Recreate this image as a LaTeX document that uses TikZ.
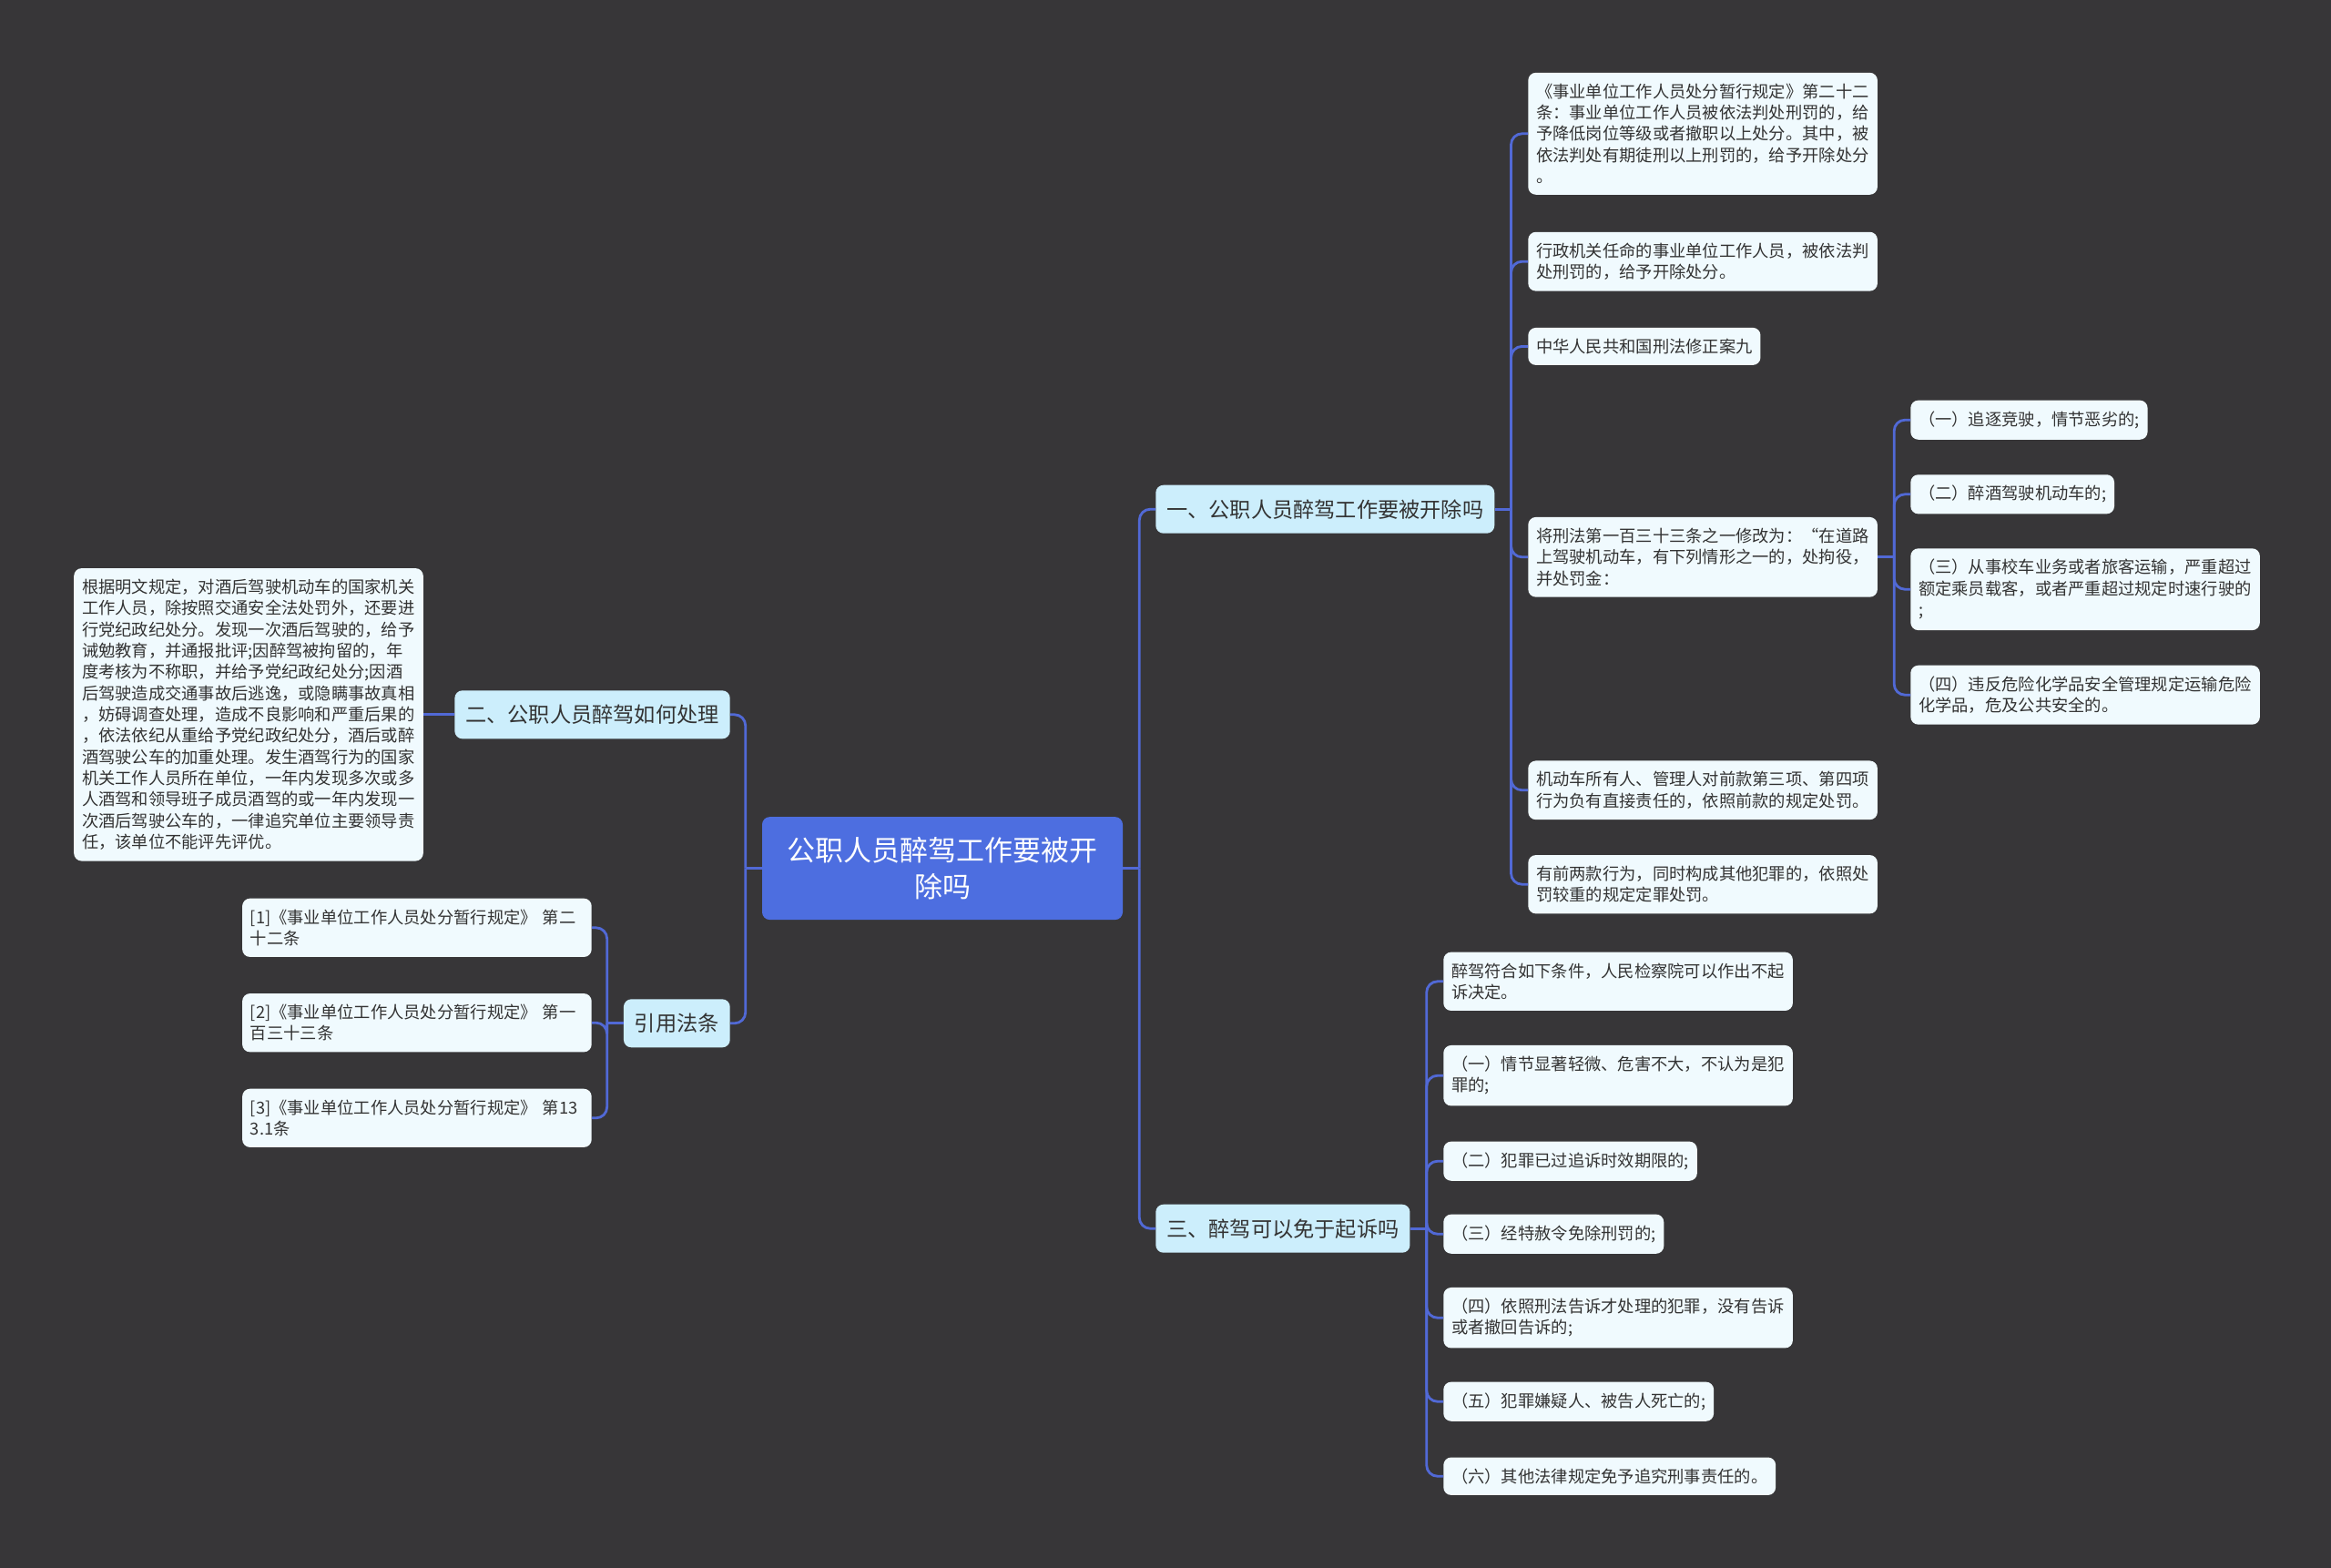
\documentclass[tikz,border=0pt]{standalone}
\usepackage{fontspec}
\setmainfont{Noto Sans CJK SC}
\usepackage{xcolor}
\usepackage{tikz}
\usetikzlibrary{positioning,calc}

\definecolor{bgdark}{HTML}{373638}
\definecolor{rootblue}{HTML}{4D6EE0}
\definecolor{branchcyan}{HTML}{CCEEFC}
\definecolor{leafwhite}{HTML}{F0FAFE}
\definecolor{linkblue}{HTML}{5169D6}
\definecolor{inkgray}{HTML}{333333}

\begin{document}
\begin{tikzpicture}[
  rootnode/.style={rectangle, rounded corners=6pt, fill=rootblue, text=white, font=\fontsize{22}{29}\selectfont, minimum width=9.9cm, minimum height=2.825cm, align=center},
  branch/.style={rectangle, rounded corners=6pt, fill=branchcyan, text=inkgray, font=\fontsize{16.5}{20}\selectfont, minimum height=1.325cm, inner xsep=0.3cm},
  leaf/.style={rectangle, rounded corners=6pt, fill=leafwhite, text=inkgray, font=\fontsize{13}{16.6}\selectfont, align=left, inner xsep=0.22cm, inner ysep=0.3cm},
  leafw/.style={leaf, text width=9.15cm},
  link/.style={draw=linkblue, line width=2pt, rounded corners=0.3cm}
]
\useasboundingbox (0,0) rectangle (64,-43.025);
\fill[bgdark] (-0.2,0.2) rectangle (64.2,-43.2);

\node[rootnode] (root) at (25.875,-23.84) {公职人员醉驾工作要被开\\除吗};

\node[branch, anchor=west] (b1) at (31.725,-13.98) {一、公职人员醉驾工作要被开除吗};
\node[branch, anchor=west] (b3) at (31.725,-33.73) {三、醉驾可以免于起诉吗};
\node[branch, anchor=east] (b2) at (20.05,-19.62) {二、公职人员醉驾如何处理};
\node[branch, anchor=east] (b4) at (20.05,-28.095) {引用法条};

% branch one
\node[leafw, anchor=west] (l1) at (41.95,-3.67) {《事业单位工作人员处分暂行规定》第二十二\\条：事业单位工作人员被依法判处刑罚的，给\\予降低岗位等级或者撤职以上处分。其中，被\\依法判处有期徒刑以上刑罚的，给予开除处分\\。};
\node[leafw, anchor=west] (l2) at (41.95,-7.18) {行政机关任命的事业单位工作人员，被依法判\\处刑罚的，给予开除处分。};
\node[leaf, anchor=west] (l3) at (41.95,-9.51) {中华人民共和国刑法修正案九};
\node[leafw, anchor=west] (l4) at (41.95,-15.295) {将刑法第一百三十三条之一修改为：“在道路\\上驾驶机动车，有下列情形之一的，处拘役，\\并处罚金：};
\node[leafw, anchor=west] (l5) at (41.95,-21.695) {机动车所有人、管理人对前款第三项、第四项\\行为负有直接责任的，依照前款的规定处罚。};
\node[leafw, anchor=west] (l6) at (41.95,-24.28) {有前两款行为，同时构成其他犯罪的，依照处\\罚较重的规定定罪处罚。};

\node[leaf, anchor=west] (s1) at (52.45,-11.53) {（一）追逐竞驶，情节恶劣的;};
\node[leaf, anchor=west] (s2) at (52.45,-13.57) {（二）醉酒驾驶机动车的;};
\node[leafw, anchor=west] (s3) at (52.45,-16.18) {（三）从事校车业务或者旅客运输，严重超过\\额定乘员载客，或者严重超过规定时速行驶的\\;};
\node[leafw, anchor=west] (s4) at (52.45,-19.08) {（四）违反危险化学品安全管理规定运输危险\\化学品，危及公共安全的。};

% branch two and references
\node[leafw, left=0.85cm of b2] (txt) {根据明文规定，对酒后驾驶机动车的国家机关\\工作人员，除按照交通安全法处罚外，还要进\\行党纪政纪处分。发现一次酒后驾驶的，给予\\诫勉教育，并通报批评;因醉驾被拘留的，年\\度考核为不称职，并给予党纪政纪处分;因酒\\后驾驶造成交通事故后逃逸，或隐瞒事故真相\\，妨碍调查处理，造成不良影响和严重后果的\\，依法依纪从重给予党纪政纪处分，酒后或醉\\酒驾驶公车的加重处理。发生酒驾行为的国家\\机关工作人员所在单位，一年内发现多次或多\\人酒驾和领导班子成员酒驾的或一年内发现一\\次酒后驾驶公车的，一律追究单位主要领导责\\任，该单位不能评先评优。};

\node[leafw, anchor=east] (r1) at (16.25,-25.47) {[1]《事业单位工作人员处分暂行规定》 第二\\十二条};
\node[leafw, anchor=east] (r2) at (16.25,-28.08) {[2]《事业单位工作人员处分暂行规定》 第一\\百三十三条};
\node[leafw, anchor=east] (r3) at (16.25,-30.695) {[3]《事业单位工作人员处分暂行规定》 第13\\3.1条};

% branch three
\node[leafw, anchor=west] (t1) at (39.625,-26.945) {醉驾符合如下条件，人民检察院可以作出不起\\诉决定。};
\node[leafw, anchor=west] (t2) at (39.625,-29.53) {（一）情节显著轻微、危害不大，不认为是犯\\罪的;};
\node[leaf, anchor=west] (t3) at (39.625,-31.88) {（二）犯罪已过追诉时效期限的;};
\node[leaf, anchor=west] (t4) at (39.625,-33.88) {（三）经特赦令免除刑罚的;};
\node[leafw, anchor=west] (t5) at (39.625,-36.18) {（四）依照刑法告诉才处理的犯罪，没有告诉\\或者撤回告诉的;};
\node[leaf, anchor=west] (t6) at (39.625,-38.48) {（五）犯罪嫌疑人、被告人死亡的;};
\node[leaf, anchor=west] (t7) at (39.625,-40.53) {（六）其他法律规定免予追究刑事责任的。};

\coordinate (jr) at ($(root.east)+(0.45,0)$);
\coordinate (jl) at ($(root.west)+(-0.45,0)$);
\coordinate (j1) at ($(b1.east)+(0.45,0)$);
\coordinate (j4) at ($(l4.east)+(0.45,0)$);
\coordinate (j3) at ($(b3.east)+(0.45,0)$);
\coordinate (jref) at ($(b4.west)+(-0.45,0)$);

\draw[link] (root.east) -- (jr);
\draw[link] (jr) |- (b1.west);
\draw[link] (jr) |- (b3.west);
\draw[link] (root.west) -- (jl);
\draw[link] (jl) |- (b2.east);
\draw[link] (jl) |- (b4.east);

\draw[link] (b1.east) -- (j1);
\foreach \n in {l1,l2,l3,l4,l5,l6}
  \draw[link] (j1) |- (\n.west);
\draw[link] (l4.east) -- (j4);
\foreach \n in {s1,s2,s3,s4}
  \draw[link] (j4) |- (\n.west);

\draw[link] (b2.west) -- (txt.east);
\draw[link] (b4.west) -- (jref);
\foreach \n in {r1,r2,r3}
  \draw[link] (jref) |- (\n.east);

\draw[link] (b3.east) -- (j3);
\foreach \n in {t1,t2,t3,t4,t5,t6,t7}
  \draw[link] (j3) |- (\n.west);
\end{tikzpicture}
\end{document}
